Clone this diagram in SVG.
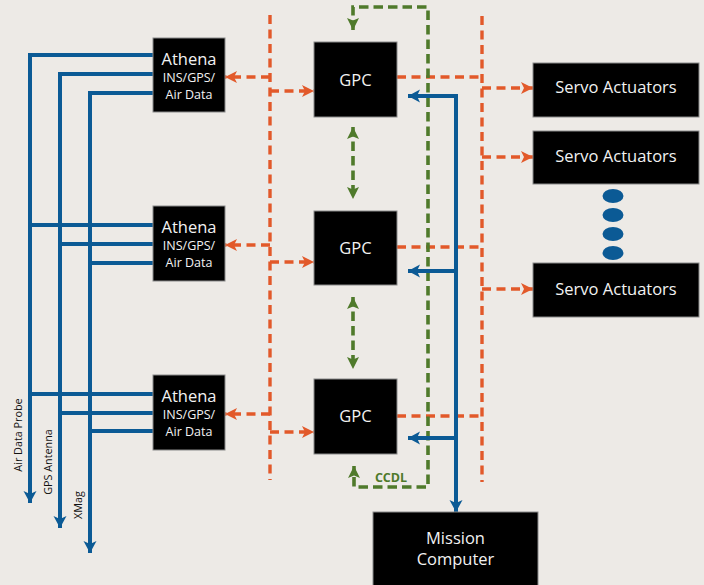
<svg xmlns="http://www.w3.org/2000/svg" width="704" height="585" viewBox="0 0 704 585">
<defs>
<style>
.box{fill:#000;stroke:#8a8a8a;stroke-width:1}
.t{fill:#f2f2f2;font-family:"Open Sans","Noto Sans",sans-serif;text-anchor:middle}
.big{font-size:16.5px}
.sm{font-size:12.5px}
.lab{fill:#111;font-family:"Open Sans","Noto Sans",sans-serif;font-size:10.8px;text-anchor:middle}
.or{fill:none;stroke:#E2592A;stroke-width:3.4;stroke-dasharray:9,5.5}
.gr{fill:none;stroke:#4F7A2B;stroke-width:3.6;stroke-dasharray:9.5,5}
.bl{fill:none;stroke:#0B5A95;stroke-width:4}
</style>
<marker id="oa" markerUnits="userSpaceOnUse" markerWidth="14" markerHeight="14" refX="12" refY="6" orient="auto">
<path d="M0,0 L12,6 L0,12 L3,6 Z" fill="#E2592A"/>
</marker>
<marker id="ga" markerUnits="userSpaceOnUse" markerWidth="14" markerHeight="14" refX="12" refY="6" orient="auto-start-reverse">
<path d="M0,0 L12,6 L0,12 L2.5,6 Z" fill="#4F7A2B"/>
</marker>
<marker id="ba" markerUnits="userSpaceOnUse" markerWidth="14" markerHeight="14" refX="12" refY="6.5" orient="auto-start-reverse">
<path d="M0,0 L12,6.5 L0,13 L3,6.5 Z" fill="#0B5A95"/>
</marker>
</defs>
<rect width="704" height="585" fill="#EDEAE6"/>

<g id="connectors">
<!-- orange buses -->
<path class="or" d="M270,15 V480"/>
<path class="or" d="M482,16 V482"/>
<path class="or" d="M270,77 H225" marker-end="url(#oa)"/>
<path class="or" d="M270,91 H314" marker-end="url(#oa)"/>
<path class="or" d="M397,77 H482"/>
<path class="or" d="M270,245 H225" marker-end="url(#oa)"/>
<path class="or" d="M270,262 H314" marker-end="url(#oa)"/>
<path class="or" d="M397,247 H482"/>
<path class="or" d="M270,414 H225" marker-end="url(#oa)"/>
<path class="or" d="M270,432 H314" marker-end="url(#oa)"/>
<path class="or" d="M397,416 H482"/>
<path class="or" d="M482,88 H533" marker-end="url(#oa)"/>
<path class="or" d="M482,157 H533" marker-end="url(#oa)"/>
<path class="or" d="M482,289 H533" marker-end="url(#oa)"/>
<!-- green CCDL -->
<path class="gr" d="M353,30 V7 H428 V487 H354 V466" marker-start="url(#ga)" marker-end="url(#ga)"/>
<path class="gr" d="M353,127 V199" marker-start="url(#ga)" marker-end="url(#ga)"/>
<path class="gr" d="M353,297 V369" marker-start="url(#ga)" marker-end="url(#ga)"/>
<!-- blue sensor lines -->
<path class="bl" d="M153,55 H30 V503" marker-end="url(#ba)"/>
<path class="bl" d="M153,74 H60 V528" marker-end="url(#ba)"/>
<path class="bl" d="M153,93 H90 V553" marker-end="url(#ba)"/>
<path class="bl" d="M153,225 H30"/>
<path class="bl" d="M153,244 H60"/>
<path class="bl" d="M153,263 H90"/>
<path class="bl" d="M153,394 H30"/>
<path class="bl" d="M153,413 H60"/>
<path class="bl" d="M153,431 H90"/>
<!-- blue mission bus -->
<path class="bl" d="M408,96 H456 V512" marker-start="url(#ba)" marker-end="url(#ba)"/>
<path class="bl" d="M456,271 H408" marker-end="url(#ba)"/>
<path class="bl" d="M456,438 H408" marker-end="url(#ba)"/>
</g>

<text class="lab" transform="translate(22,435) rotate(-90)">Air Data Probe</text>
<text class="lab" transform="translate(52,462) rotate(-90)">GPS Antenna</text>
<text class="lab" transform="translate(82,505) rotate(-90)">XMag</text>
<text x="391" y="482" fill="#4F7A2B" font-family="Open Sans, Noto Sans, sans-serif" font-size="12.5" font-weight="bold" text-anchor="middle">CCDL</text>

<g id="athena1"><rect class="box" x="153" y="38" width="72" height="74"/>
<text class="t big" x="189" y="65">Athena</text>
<text class="t sm" x="189" y="82">INS/GPS/</text>
<text class="t sm" x="189" y="99">Air Data</text></g>
<g id="athena2"><rect class="box" x="153" y="206" width="72" height="75"/>
<text class="t big" x="189" y="233">Athena</text>
<text class="t sm" x="189" y="250">INS/GPS/</text>
<text class="t sm" x="189" y="267">Air Data</text></g>
<g id="athena3"><rect class="box" x="153" y="375" width="72" height="75"/>
<text class="t big" x="189" y="402">Athena</text>
<text class="t sm" x="189" y="419">INS/GPS/</text>
<text class="t sm" x="189" y="436">Air Data</text></g>

<g id="gpc1"><rect class="box" x="314" y="42" width="83" height="75"/>
<text class="t big" x="355.5" y="86">GPC</text></g>
<g id="gpc2"><rect class="box" x="314" y="211" width="83" height="74"/>
<text class="t big" x="355.5" y="254">GPC</text></g>
<g id="gpc3"><rect class="box" x="314" y="379" width="83" height="75"/>
<text class="t big" x="355.5" y="422">GPC</text></g>

<g id="servo1"><rect class="box" x="533" y="63" width="166" height="54"/>
<text class="t big" x="616" y="93">Servo Actuators</text></g>
<g id="servo2"><rect class="box" x="533" y="131" width="166" height="53"/>
<text class="t big" x="616" y="162">Servo Actuators</text></g>
<g id="servo3"><rect class="box" x="533" y="263" width="166" height="54"/>
<text class="t big" x="616" y="295">Servo Actuators</text></g>

<g id="dots" fill="#0B5A95">
<ellipse cx="613" cy="196" rx="10.5" ry="7"/>
<ellipse cx="613" cy="215" rx="10.5" ry="7"/>
<ellipse cx="613" cy="234" rx="10.5" ry="7"/>
<ellipse cx="613" cy="253" rx="10.5" ry="7"/>
</g>

<g id="mission"><rect class="box" x="373" y="512" width="165" height="80"/>
<text class="t big" x="455.5" y="544">Mission</text>
<text class="t big" x="455.5" y="565">Computer</text></g>
</svg>
